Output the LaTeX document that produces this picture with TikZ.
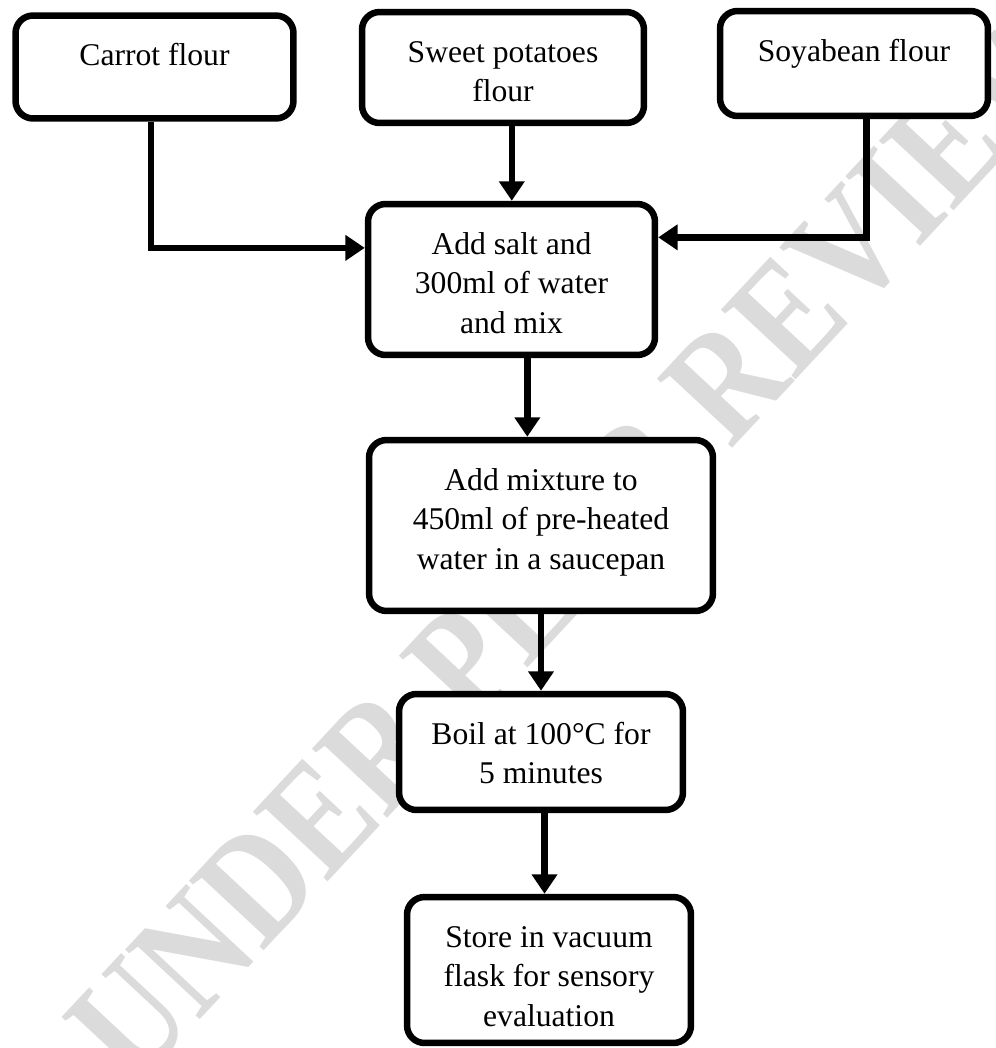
\documentclass[tikz,border=0pt]{standalone}
\usepackage{fontspec}
\setmainfont{Liberation Serif}
\usetikzlibrary{arrows.meta}
\newcommand{\stagetext}[3]{\parbox[t][#2][t]{#1}{\centering\rule{0pt}{1cm}#3}}
\tikzset{
  stage/.style={draw, line width=3.7pt, rounded corners=10pt, fill=white, inner sep=0pt, font=\fontsize{18}{22.7}\selectfont},
  flow/.style={line width=3.7pt, -{Triangle[length=11pt,width=14pt]}},
  watermark/.style={text=black!14, rotate=47, yscale=1.2, inner sep=0pt, font=\fontsize{74}{74}\selectfont\bfseries}
}

\begin{document}
\begin{tikzpicture}[x=0.02cm, y=-0.02cm]
  \useasboundingbox (0,0) rectangle (995,1048);
  %
  \node[watermark] (wm) at (581,538) {UNDER PEER REVIEW};

  % the three flours
  \node[stage] (carrot) at (154.5,67) {\stagetext{5.56cm}{2.06cm}{Carrot flour}};
  \node[stage] (sweet) at (503,67.5) {\stagetext{5.64cm}{2.22cm}{Sweet potatoes\\ flour}};
  \node[stage] (soy) at (854,63.5) {\stagetext{5.36cm}{2.1cm}{Soyabean flour}};

  % process steps
  \node[stage] (mix) at (511.5,279.5) {\stagetext{5.74cm}{3.02cm}{Add salt and\\ 300ml of water\\ and mix}};
  \node[stage] (heat) at (541,525.5) {\stagetext{6.88cm}{3.42cm}{Add mixture to\\ 450ml of pre-heated\\ water in a saucepan}};
  \node[stage] (boil) at (541,752) {\stagetext{5.68cm}{2.32cm}{Boil at 100°C for\\ 5 minutes}};
  \node[stage] (store) at (549,970) {\stagetext{5.68cm}{2.92cm}{Store in vacuum\\ flask for sensory\\ evaluation}};

  %
  \draw[flow] ([xshift=-2pt]carrot.south) |- ([yshift=18pt]mix.west);
  \draw[flow] ([xshift=5pt]sweet.south) -- ([xshift=5pt]sweet.south |- mix.north);
  \draw[flow] ([xshift=7pt]soy.south) |- ([yshift=24pt]mix.east);
  \draw[flow] ([xshift=9pt]mix.south) -- ([xshift=9pt]mix.south |- heat.north);
  \draw[flow] (heat.south) -- (heat.south |- boil.north);
  \draw[flow] ([xshift=2pt]boil.south) -- ([xshift=2pt]boil.south |- store.north);
\end{tikzpicture}
\end{document}
